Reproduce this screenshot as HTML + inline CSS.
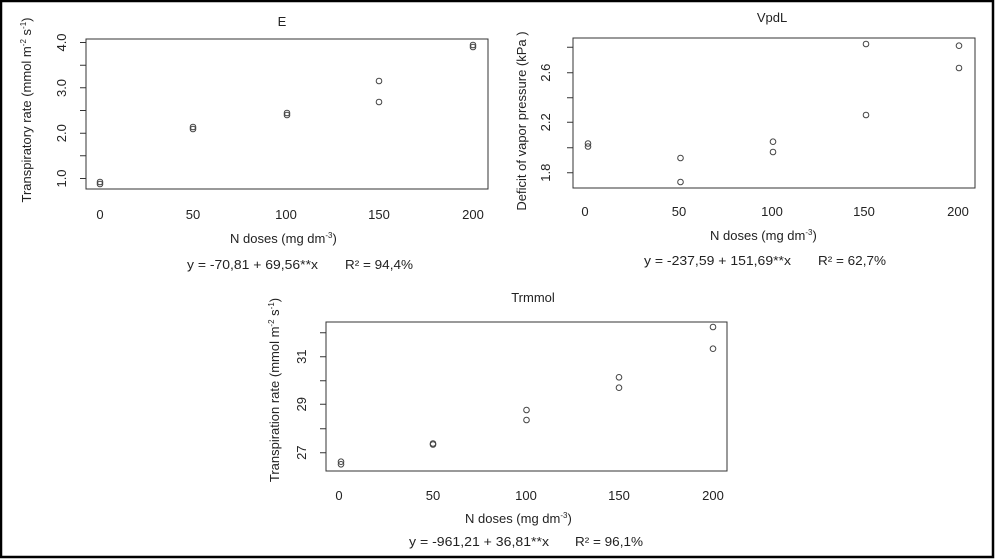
<!DOCTYPE html>
<html><head><meta charset="utf-8"><style>
html,body{margin:0;padding:0;background:#fff}
svg{display:block}
text{font-family:"Liberation Sans","DejaVu Sans",sans-serif;fill:#222;font-size:13px}
</style></head><body>
<svg width="995" height="560" viewBox="0 0 995 560">
<rect x="1" y="1" width="992" height="556" fill="#fff" stroke="#000" stroke-width="2.5"/>
<g fill="none" stroke="#333" stroke-width="1">
<rect x="86" y="39" width="402" height="150"/>
<path d="M86 42.5h-6M86 65.2h-6M86 87.8h-6M86 110.5h-6M86 133.2h-6M86 155.8h-6M86 178.5h-6"/>
<rect x="573" y="38" width="402" height="150"/>
<path d="M573 47.3h-6M573 72.7h-6M573 97.7h-6M573 122.3h-6M573 147.7h-6M573 172.7h-6"/>
<rect x="326" y="322" width="401" height="149"/>
<path d="M326 332.7h-6M326 356.7h-6M326 380.7h-6M326 404.3h-6M326 428.7h-6M326 452.7h-6"/>
</g>
<g fill="none" stroke="#444" stroke-width="1">
<circle cx="100" cy="182" r="2.8"/><circle cx="100" cy="184" r="2.8"/>
<circle cx="193" cy="127" r="2.8"/><circle cx="193" cy="129" r="2.8"/>
<circle cx="287" cy="113" r="2.8"/><circle cx="287" cy="115" r="2.8"/>
<circle cx="379" cy="81" r="2.8"/><circle cx="379" cy="102" r="2.8"/>
<circle cx="473" cy="45" r="2.8"/><circle cx="473" cy="47" r="2.8"/>
<circle cx="588" cy="143.5" r="2.8"/><circle cx="588" cy="146.5" r="2.8"/>
<circle cx="680.5" cy="158" r="2.8"/><circle cx="680.5" cy="182" r="2.8"/>
<circle cx="773" cy="141.7" r="2.8"/><circle cx="773" cy="152" r="2.8"/>
<circle cx="866" cy="44" r="2.8"/><circle cx="866" cy="115" r="2.8"/>
<circle cx="959" cy="45.7" r="2.8"/><circle cx="959" cy="68" r="2.8"/>
<circle cx="341" cy="461.7" r="2.8"/><circle cx="341" cy="464.3" r="2.8"/>
<circle cx="433" cy="443.5" r="2.8"/><circle cx="433" cy="444.5" r="2.8"/>
<circle cx="526.5" cy="410" r="2.8"/><circle cx="526.5" cy="420" r="2.8"/>
<circle cx="619" cy="377.3" r="2.8"/><circle cx="619" cy="387.7" r="2.8"/>
<circle cx="713" cy="327" r="2.8"/><circle cx="713" cy="348.7" r="2.8"/>
</g>
<text x="282" y="26" text-anchor="middle">E</text>
<text x="772" y="22" text-anchor="middle">VpdL</text>
<text x="533" y="302" text-anchor="middle">Trmmol</text>
<g text-anchor="middle">
<text x="100" y="219">0</text><text x="193" y="219">50</text><text x="286" y="219">100</text><text x="379" y="219">150</text><text x="473" y="219">200</text>
<text x="585" y="216">0</text><text x="679" y="216">50</text><text x="772" y="216">100</text><text x="864" y="216">150</text><text x="958" y="216">200</text>
<text x="339" y="500">0</text><text x="433" y="500">50</text><text x="526" y="500">100</text><text x="619" y="500">150</text><text x="713" y="500">200</text>
</g>
<text x="230" y="243">N doses (mg dm<tspan dy="-5" font-size="8">-3</tspan><tspan dy="5">)</tspan></text>
<text x="710" y="240">N doses (mg dm<tspan dy="-5" font-size="8">-3</tspan><tspan dy="5">)</tspan></text>
<text x="465" y="523">N doses (mg dm<tspan dy="-5" font-size="8">-3</tspan><tspan dy="5">)</tspan></text>
<text x="187" y="269" textLength="131" lengthAdjust="spacingAndGlyphs">y = -70,81 + 69,56**x</text>
<text x="345" y="269" textLength="68" lengthAdjust="spacingAndGlyphs">R² = 94,4%</text>
<text x="644" y="265" textLength="147" lengthAdjust="spacingAndGlyphs">y = -237,59 + 151,69**x</text>
<text x="818" y="265" textLength="68" lengthAdjust="spacingAndGlyphs">R² = 62,7%</text>
<text x="409" y="546" textLength="140" lengthAdjust="spacingAndGlyphs">y = -961,21 + 36,81**x</text>
<text x="575" y="546" textLength="68" lengthAdjust="spacingAndGlyphs">R² = 96,1%</text>
<g text-anchor="middle">
<text transform="translate(66,42.5) rotate(-90)">4.0</text>
<text transform="translate(66,88) rotate(-90)">3.0</text>
<text transform="translate(66,133.2) rotate(-90)">2.0</text>
<text transform="translate(66,178.5) rotate(-90)">1.0</text>
<text transform="translate(550,72.7) rotate(-90)">2.6</text>
<text transform="translate(550,122.3) rotate(-90)">2.2</text>
<text transform="translate(550,172.7) rotate(-90)">1.8</text>
<text transform="translate(306,356.7) rotate(-90)">31</text>
<text transform="translate(306,404.3) rotate(-90)">29</text>
<text transform="translate(306,452.7) rotate(-90)">27</text>
<text transform="translate(31,110) rotate(-90)">Transpiratory rate (mmol m<tspan dy="-5" font-size="8">-2</tspan><tspan dy="5"> s</tspan><tspan dy="-5" font-size="8">-1</tspan><tspan dy="5">)</tspan></text>
<text transform="translate(526,121) rotate(-90)">Deficit of vapor pressure (kPa )</text>
<text transform="translate(279,390) rotate(-90)">Transpiration rate (mmol m<tspan dy="-5" font-size="8">-2</tspan><tspan dy="5"> s</tspan><tspan dy="-5" font-size="8">-1</tspan><tspan dy="5">)</tspan></text>
</g>
</svg>
</body></html>
